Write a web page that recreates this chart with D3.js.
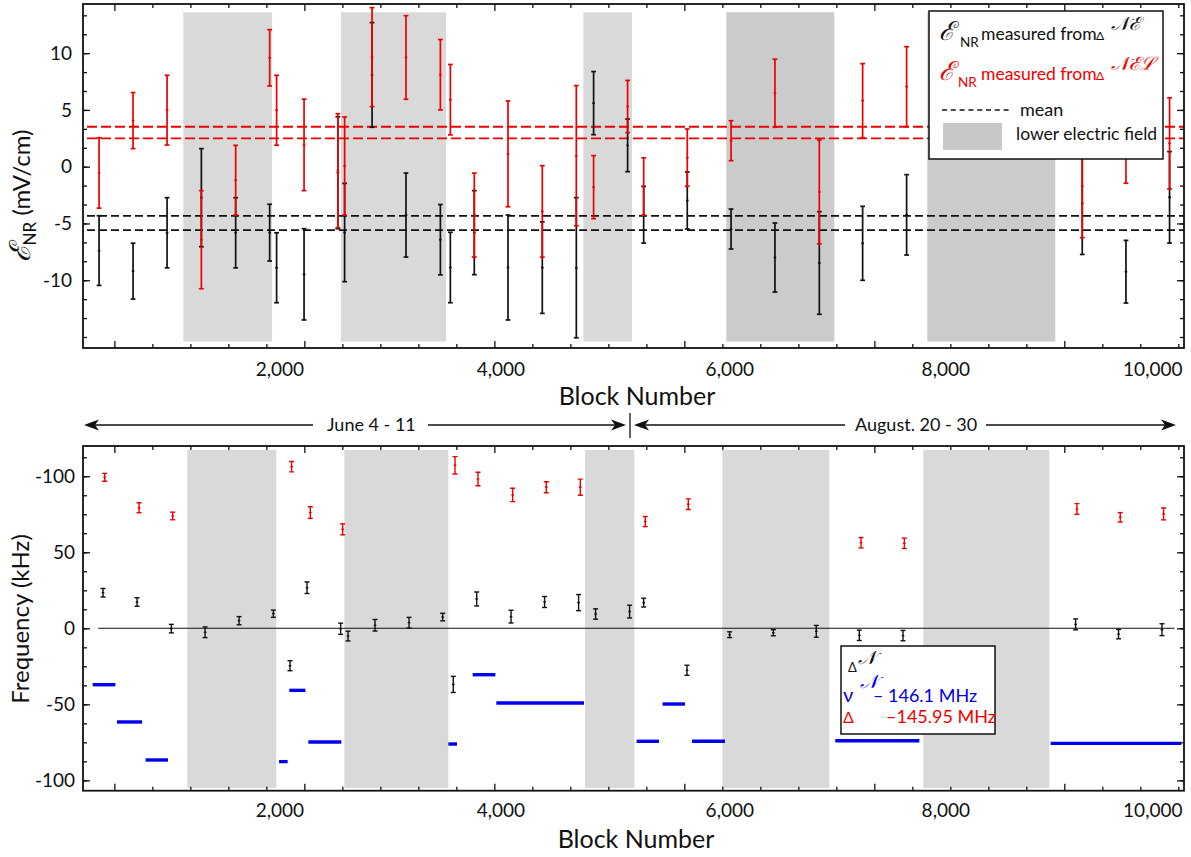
<!DOCTYPE html>
<html><head><meta charset="utf-8">
<script src="https://cdn.jsdelivr.net/npm/d3@7"></script>
<style>
body{margin:0;background:#fff}
svg{color:#111}
svg text{font-family:Lato,"Open Sans",sans-serif}
</style>
</head><body>
<svg id="c" width="1191" height="857" fill="#111"></svg>
<script>
// ---------------- DATA ----------------
// Top panel: E_NR (mV/cm) vs block number
const topBlocks   = [-161,197,555,916,1277,1635,1708,1997,2353,2424,2713,3070,3432,3537,3789,4144,4505,4863,5045,5403,5572,6031,6492,6954,7421,7877,8340,10189,10649,11108];
const topBlackE   = [-7.39,-9.20,-5.82,-2.73,-5.82,-5.81,-8.90,-9.48,-0.53,-5.80,8.08,-4.26,-6.43,-8.88,-5.81,-8.88,-8.89,-8.90,5.60,1.88,-4.23,-2.98,-5.49,-8.00,-8.48,-6.75,-4.24,-3.23,-9.25,-2.70];
const topBlackErr = [3.07,2.46,3.09,4.32,3.09,2.50,3.08,4.02,4.93,4.33,4.61,3.70,3.10,3.10,3.70,4.62,4.03,6.17,2.78,2.32,2.50,2.51,1.76,3.04,4.52,3.26,3.54,4.50,2.76,4.03];
const topRedE     = [-0.55,4.06,4.98,-6.43,-1.19,9.59,4.97,1.92,-0.35,0.06,9.65,9.62,8.10,5.90,-4.26,1.13,-3.94,0.97,-1.80,5.30,-1.75,0.80,2.29,6.47,-2.22,5.82,7.05,-1.72,1.30,2.06];
const topRedErr   = [3.10,2.47,3.07,4.32,3.07,2.48,3.08,4.03,5.02,4.32,4.36,3.68,3.10,3.10,3.70,4.66,4.03,6.17,2.78,2.30,2.53,2.52,1.76,3.00,4.57,3.26,3.52,4.53,2.76,4.01];
const topMeanBlack = [-4.34,-5.58];
const topMeanRed   = [3.52,2.50];
const topBandStart = [726,2386,4937,6442,8558];
const topBandEnd   = [1660,3492,5449,7579,9905];
const topBandDark  = [false,false,false,true,true];
const topBandRange = [-15.4,13.6];
const topYMajor = [-10,-5,0,5,10];
const topYMinor = d3.range(-9,9).map(k => k*5/3);

// Bottom panel: frequency (kHz) vs block number
const botBlackBlocks = [-119,239,600,955,1313,1674,1849,2028,2382,2460,2744,3102,3456,3568,3814,4176,4529,4887,5066,5424,5572,6028,6477,6937,7389,7842,8302,10119,10571,11028];
const botBlackF   = [23.4,17.3,-0.2,-2.6,5.0,9.6,-24.6,26.7,-0.3,-5.1,2.0,3.7,7.4,-36.9,19.3,7.7,17.3,16.9,9.4,11.0,16.9,-27.6,-4.2,-2.9,-2.0,-4.6,-4.8,2.6,-3.8,-0.9];
const botBlackErr = [2.8,2.8,2.8,3.5,2.7,2.4,3.3,3.8,3.7,3.2,3.8,3.5,2.5,5.3,4.6,4.2,3.6,5.3,3.4,4.2,2.9,3.3,1.9,2.0,3.9,3.4,3.4,3.6,3.1,3.9];
const botRedBlocks = [-102,260,614,1866,2063,2403,3586,3828,4193,4547,4905,5589,6042,7860,8316,10133,10589,11045];
const botRedF      = [99.3,79.3,73.9,106.3,76.1,65.1,107.2,98.2,87.7,92.8,92.8,70.2,81.6,56.3,55.9,78.5,73.0,75.2];
const botRedErr    = [2.6,3.3,2.5,3.4,3.8,3.6,5.7,4.4,4.4,3.6,5.3,3.3,3.5,3.4,3.4,3.5,3.1,3.9];
const blueStart = [-228,28,329,1734,1842,2042,3516,3772,4021,5498,5771,6081,7589,9856];
const blueEnd   = [11,292,565,1824,2011,2389,3607,4011,4944,5733,6007,6428,8474,11231];
const blueF     = [-37.1,-61.6,-86.6,-87.7,-40.8,-74.8,-76.1,-30.5,-49.1,-74.3,-49.8,-74.3,-73.9,-75.7];
const botBandStart = [768,2421,4955,6400,8516];
const botBandEnd   = [1705,3516,5474,7526,9842];
const botBandRange = [-105,117.3];
const zeroLineSpan = [-170,11160];
const botYMajor  = [100,50,0,-50,-100];
const botYLabels = ["-100","50","0","-50","-100"];
const botYMinor  = d3.range(-8,10).map(k => k*12.5);

const xMajor  = [0,2000,4000,6000,8000,10000];
const xMinor  = d3.range(0,11201,400);
const xLabelValues = [2000,4000,6000,8000,10000];
const xLabels = ["2,000","4,000","6,000","8,000","10,000"];

// ---------------- LAYOUT ----------------
const svg = d3.select("#c");
const RED = "#ee0000", BLUE = "#0000f0", INK = "#111";
const x  = d3.scaleLinear().domain([-330, 11260]).range([83, 1184]);
const yT = d3.scaleLinear().domain([-15.97, 14.33]).range([348, 4]);
const yB = d3.scaleLinear().domain([-106.8, 119.9]).range([790.7, 446]);
const labelShift = [-25, 6, 45, 71, 88]; // label placement as in the reference figure

function clip(id, yS){
  svg.append("clipPath").attr("id",id).append("rect")
    .attr("x",x.range()[0]).attr("y",yS.range()[1])
    .attr("width",x.range()[1]-x.range()[0]).attr("height",yS.range()[0]-yS.range()[1]);
}
clip("cT", yT); clip("cB", yB);

function frame(yS, yMaj, yMin, yFmt, yPad, xPad){
  const g = svg.append("g");
  const [b,t] = yS.range(), [l,r] = x.range();
  const mk = (axis, tr) => { const a = g.append("g").attr("transform",tr).call(axis); a.select(".domain").remove(); a.selectAll("line").attr("stroke",INK).attr("stroke-width",1.3); return a; };
  mk(d3.axisBottom(x).tickValues(xMajor).tickSize(-7).tickFormat(""), `translate(0,${b})`);
  mk(d3.axisBottom(x).tickValues(xMinor.filter(v=>v%2000)).tickSize(-4).tickFormat(""), `translate(0,${b})`);
  mk(d3.axisTop(x).tickValues(xMajor).tickSize(-7).tickFormat(""), `translate(0,${t})`);
  mk(d3.axisTop(x).tickValues(xMinor.filter(v=>v%2000)).tickSize(-4).tickFormat(""), `translate(0,${t})`);
  mk(d3.axisLeft(yS).tickValues(yMaj).tickSize(-7).tickFormat(""), `translate(${l},0)`);
  mk(d3.axisLeft(yS).tickValues(yMin).tickSize(-4).tickFormat(""), `translate(${l},0)`);
  mk(d3.axisRight(yS).tickValues(yMaj).tickSize(-7).tickFormat(""), `translate(${r},0)`);
  mk(d3.axisRight(yS).tickValues(yMin).tickSize(-4).tickFormat(""), `translate(${r},0)`);
  const yl = g.append("g").attr("transform",`translate(${l},0)`)
    .call(d3.axisLeft(yS).tickValues(yMaj).tickSize(0).tickPadding(yPad).tickFormat(yFmt));
  yl.select(".domain").remove();
  yl.selectAll("text").attr("font-size",19).attr("font-family","Lato").attr("fill",INK);
  const xl = g.append("g").attr("transform",`translate(0,${b})`)
    .call(d3.axisBottom(x).tickValues(xLabelValues).tickSize(0).tickPadding(xPad).tickFormat((d,i)=>xLabels[i]));
  xl.select(".domain").remove();
  xl.selectAll("text").attr("font-size",19).attr("font-family","Lato").attr("fill",INK)
    .attr("dx",(d,i)=>labelShift[i]);
  g.append("rect").attr("x",l).attr("y",t).attr("width",r-l).attr("height",b-t)
    .attr("fill","none").attr("stroke",INK).attr("stroke-width",1.8);
}

function errBars(g, xs, cs, es, yS, color, sw, cap, dot){
  const d = xs.map((b,i)=>({px:x(b), hi:yS(cs[i]+es[i]), lo:yS(cs[i]-es[i]), c:yS(cs[i])}));
  const gg = g.append("g").attr("stroke",color).attr("stroke-width",sw);
  gg.selectAll(null).data(d).join("line").attr("x1",p=>p.px).attr("x2",p=>p.px).attr("y1",p=>p.hi).attr("y2",p=>p.lo);
  gg.selectAll(null).data(d).join("line").attr("x1",p=>p.px-cap).attr("x2",p=>p.px+cap).attr("y1",p=>p.hi).attr("y2",p=>p.hi);
  gg.selectAll(null).data(d).join("line").attr("x1",p=>p.px-cap).attr("x2",p=>p.px+cap).attr("y1",p=>p.lo).attr("y2",p=>p.lo);
  gg.selectAll(null).data(d).join("line").attr("x1",p=>p.px-dot).attr("x2",p=>p.px+dot).attr("y1",p=>p.c).attr("y2",p=>p.c);
}

// ---------------- TOP PANEL ----------------
const gT = svg.append("g").attr("clip-path","url(#cT)");
gT.selectAll(null).data(topBandStart).join("rect")
  .attr("x",(d)=>x(d)).attr("width",(d,i)=>x(topBandEnd[i])-x(d))
  .attr("y",yT(topBandRange[1])).attr("height",yT(topBandRange[0])-yT(topBandRange[1]))
  .attr("fill",(d,i)=>topBandDark[i]?"#cbcbcb":"#d9d9d9");
gT.selectAll(null).data(topMeanRed).join("line")
  .attr("x1",x.range()[0]).attr("x2",x.range()[1]).attr("y1",d=>yT(d)).attr("y2",d=>yT(d))
  .attr("stroke",RED).attr("stroke-width",1.8).attr("stroke-dasharray","10,4").attr("stroke-dashoffset",-4);
gT.selectAll(null).data(topMeanBlack).join("line")
  .attr("x1",x.range()[0]).attr("x2",x.range()[1]).attr("y1",d=>yT(d)).attr("y2",d=>yT(d))
  .attr("stroke",INK).attr("stroke-width",1.8).attr("stroke-dasharray","8,4").attr("stroke-dashoffset",-4);
errBars(gT, topBlocks, topBlackE, topBlackErr, yT, INK, 1.7, 2.4, 1.3);
errBars(gT, topBlocks, topRedE, topRedErr, yT, RED, 1.7, 2.4, 1.3);
frame(yT, topYMajor, topYMinor, d=>d, 11, 14.5);

// ---------------- BOTTOM PANEL ----------------
const gB = svg.append("g").attr("clip-path","url(#cB)");
gB.selectAll(null).data(botBandStart).join("rect")
  .attr("x",(d)=>x(d)).attr("width",(d,i)=>x(botBandEnd[i])-x(d))
  .attr("y",yB(botBandRange[1])).attr("height",yB(botBandRange[0])-yB(botBandRange[1]))
  .attr("fill","#d9d9d9");
gB.append("line").attr("x1",x(zeroLineSpan[0])).attr("x2",x(zeroLineSpan[1]))
  .attr("y1",yB(0)).attr("y2",yB(0)).attr("stroke",INK).attr("stroke-width",1.1);
gB.selectAll(null).data(blueF).join("line")
  .attr("x1",(d,i)=>x(blueStart[i])).attr("x2",(d,i)=>x(blueEnd[i]))
  .attr("y1",d=>yB(d)).attr("y2",d=>yB(d)).attr("stroke",BLUE).attr("stroke-width",3.4);
errBars(gB, botBlackBlocks, botBlackF, botBlackErr, yB, INK, 1.4, 2.5, 1.3);
errBars(gB, botRedBlocks, botRedF, botRedErr, yB, RED, 1.4, 2.5, 1.3);
frame(yB, botYMajor, botYMinor, (d,i)=>botYLabels[i], 8, 13);

// ---------------- TITLES ----------------
svg.append("text").attr("x",637).attr("y",405).attr("text-anchor","middle").attr("font-size",25).attr("fill",INK).text("Block Number");
svg.append("text").attr("x",636).attr("y",848).attr("text-anchor","middle").attr("font-size",25).attr("fill",INK).text("Block Number");
const yt = svg.append("text").attr("transform","translate(30,196) rotate(-90)").attr("text-anchor","middle").attr("font-size",24).attr("fill",INK);
yt.append("tspan").attr("font-family","DejaVu Serif").attr("font-style","italic").attr("font-size",29).text("ℰ");
yt.append("tspan").attr("font-size",17).attr("dy",6).text("NR");
yt.append("tspan").attr("dy",-6).text(" (mV/cm)");
svg.append("text").attr("transform","translate(29,619) rotate(-90)").attr("text-anchor","middle").attr("font-size",24).attr("fill",INK).text("Frequency (kHz)");

// ---------------- DATE ARROWS ----------------
const ay = 425;
function head(tip, dir){
  svg.append("path").attr("d",`M${tip},${ay} L${tip-dir*15},${ay-5.5} L${tip-dir*11},${ay} L${tip-dir*15},${ay+5.5} Z`).attr("fill",INK);
}
[[95,313],[428,620],[640,845],[986,1170]].forEach(s=>svg.append("line").attr("x1",s[0]).attr("x2",s[1]).attr("y1",ay).attr("y2",ay).attr("stroke",INK).attr("stroke-width",1.3));
head(84,-1); head(626,1); head(634,-1); head(1176,1);
svg.append("line").attr("x1",630).attr("x2",630).attr("y1",413).attr("y2",438).attr("stroke",INK).attr("stroke-width",1.3);
svg.append("text").attr("x",327).attr("y",431).attr("font-size",18).attr("fill",INK).text("June 4 - 11");
svg.append("text").attr("x",855).attr("y",431).attr("font-size",18).attr("fill",INK).text("August. 20 - 30");

// ---------------- TOP LEGEND ----------------
svg.append("rect").attr("x",929).attr("y",11).attr("width",234).attr("height",148).attr("fill","#fff").attr("stroke",INK).attr("stroke-width",1.5);
function entry(yb, color, sup, nrx){
  svg.append("text").attr("x",939).attr("y",yb).attr("font-family","DejaVu Serif").attr("font-style","italic").attr("font-size",26).attr("fill",color).text("ℰ");
  svg.append("text").attr("x",nrx).attr("y",yb+7).attr("font-size",13.5).attr("fill",color).text("NR");
  svg.append("text").attr("x",981).attr("y",yb).attr("font-size",17.5).attr("fill",color).text("measured from");
  svg.append("text").attr("x",1096).attr("y",yb).attr("font-family","DejaVu Serif").attr("font-size",12).attr("fill",color).text("Δ");
  svg.append("text").attr("x",1111).attr("y",yb-10).attr("font-family","DejaVu Serif").attr("font-style","italic").attr("font-size",19).attr("fill",color).text(sup);
}
entry(40, INK, "𝒩ℰ", 960);
entry(80, RED, "𝒩ℰℒ", 958);
svg.append("line").attr("x1",942).attr("x2",1012).attr("y1",110).attr("y2",110).attr("stroke",INK).attr("stroke-width",1.3).attr("stroke-dasharray","5,3.8");
svg.append("text").attr("x",1020).attr("y",116).attr("font-size",18).attr("fill",INK).text("mean");
svg.append("rect").attr("x",943).attr("y",123).attr("width",59).attr("height",27).attr("fill","#c8c8c8");
svg.append("text").attr("x",1016).attr("y",140).attr("font-size",17.5).attr("fill",INK).text("lower electric field");

// ---------------- BOTTOM LEGEND ----------------
svg.append("rect").attr("x",841).attr("y",646).attr("width",154).attr("height",88).attr("fill","#fff").attr("stroke",INK).attr("stroke-width",1.5);
svg.append("text").attr("x",848).attr("y",672).attr("font-family","DejaVu Serif").attr("font-size",13).attr("fill",INK).text("Δ");
svg.append("text").attr("x",858).attr("y",664).attr("font-family","DejaVu Serif").attr("font-style","italic").attr("font-size",19).attr("fill",INK).text("𝒩");
svg.append("text").attr("x",843).attr("y",702).attr("font-family","DejaVu Serif").attr("font-size",20).attr("fill",BLUE).text("ν");
svg.append("text").attr("x",860).attr("y",688).attr("font-family","DejaVu Serif").attr("font-style","italic").attr("font-size",19).attr("fill",BLUE).text("𝒩");
svg.append("text").attr("x",873).attr("y",702).attr("font-size",18).attr("fill",BLUE).text("– 146.1 MHz");
svg.append("text").attr("x",843).attr("y",723).attr("font-family","DejaVu Serif").attr("font-size",16).attr("fill",RED).text("Δ");
svg.append("text").attr("x",886).attr("y",723).attr("font-size",18).attr("fill",RED).text("–145.95 MHz");
</script>
</body></html>
